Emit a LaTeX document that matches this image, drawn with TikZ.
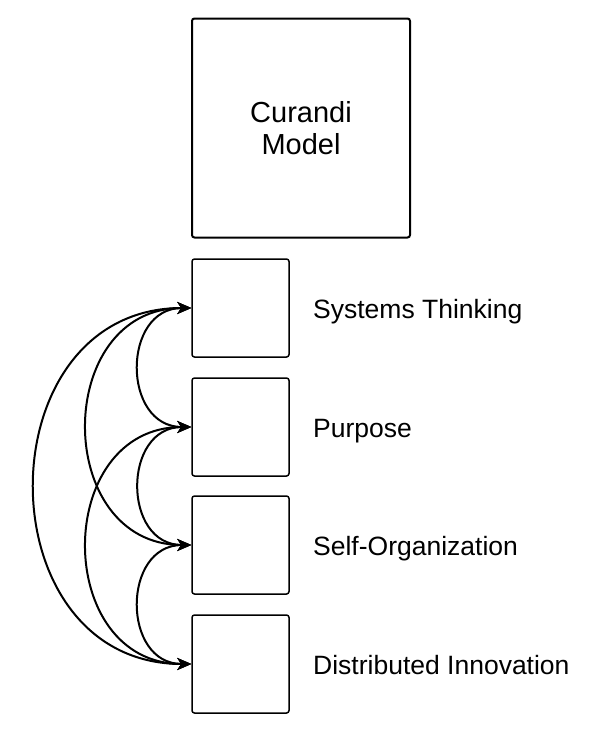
\documentclass[tikz,border=0pt]{standalone}
\usepackage{fontspec}
\setmainfont{Liberation Sans}
\usetikzlibrary{arrows.meta}
\begin{document}
\begin{tikzpicture}[x=1pt,y=-1pt,>={Stealth[length=14pt,width=12pt,inset=4pt]}]
        \tikzstyle{pillar}=[draw=black,line width=1.5pt,rounded corners=2.5pt,minimum width=97pt,minimum height=98pt,inner sep=0pt]
        \tikzstyle{model}=[pillar,minimum width=218pt,minimum height=219pt,line width=2pt,align=center,font=\fontsize{29}{32}\selectfont]
        \tikzstyle{label}=[anchor=base west,inner sep=0pt,font=\fontsize{26.5}{30}\selectfont]
        \tikzstyle{edge}=[draw,line width=2pt,<->,out=180,in=180,looseness=1.5]
        \useasboundingbox (0,0) rectangle (614,739);

         \node [model] (curandi) at (301,128) {Curandi\\Model};

         \node [pillar] (p1) at (240.5,308) {};
         \node [pillar] (p2) at (240.5,427) {};
         \node [pillar] (p3) at (240.5,545) {};
         \node [pillar] (p4) at (240.5,664) {};

         \node [label] (l1) at (313,318) {Systems Thinking};
         \node [label] (l2) at (313,437) {Purpose};
         \node [label] (l3) at (313,555) {Self-Organization};
         \node [label] (l4) at (313,674) {Distributed Innovation};

         \path[edge] (p1.west) to (p2.west);
         \path[edge] (p2.west) to (p3.west);
         \path[edge] (p3.west) to (p4.west);
         \path[edge] (p1.west) to (p3.west);
         \path[edge] (p2.west) to (p4.west);
         \path[edge] (p1.west) to (p4.west);
      \end{tikzpicture}
\end{document}
